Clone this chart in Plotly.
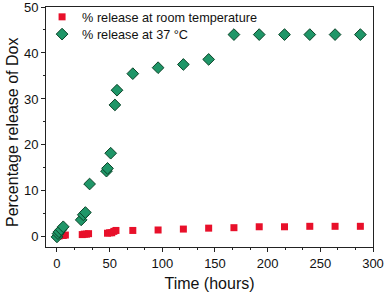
import plotly.graph_objects as go

# Room temperature release (red squares)
rt_time = [0, 2, 4, 6, 8, 24, 26, 28, 30, 48, 50, 52, 54, 56, 72, 96, 120, 144, 168, 192, 216, 240, 264, 288]
rt_release = [0.2, 0.2, 0.3, 0.3, 0.4, 0.5, 0.6, 0.6, 0.7, 0.8, 0.9, 0.9, 1.2, 1.4, 1.4, 1.5, 1.7, 1.9, 2.0, 2.2, 2.2, 2.3, 2.3, 2.3]

# 37 °C release (green diamonds)
t37_time = [0, 1, 2, 4, 6, 23, 25, 27, 31, 47, 48, 51, 55, 57, 72, 96, 120, 144, 168, 192, 216, 240, 264, 288]
t37_release = [0.0, 0.7, 1.1, 1.6, 2.2, 3.7, 4.8, 5.3, 11.5, 14.3, 14.9, 18.2, 28.7, 31.9, 35.5, 36.8, 37.5, 38.6, 44.0, 44.0, 44.0, 44.0, 44.0, 44.0]

x_ticks = [0, 50, 100, 150, 200, 250, 300]
y_ticks = [0, 10, 20, 30, 40, 50]

FONT = "Liberation Sans, Arial, sans-serif"

fig = go.Figure()
fig.add_trace(go.Scatter(
    x=rt_time, y=rt_release, mode="markers",
    name="% release at room temperature", legend="legend", showlegend=True,
    marker=dict(symbol="square", size=7, color="#e8102a", line=dict(width=0)),
))
fig.add_trace(go.Scatter(
    x=t37_time, y=t37_release, mode="markers",
    name="% release at 37 °C", legend="legend2", showlegend=True,
    marker=dict(symbol="diamond", size=9, color="#1f9668", line=dict(width=1, color="#0b4428")),
))

axis_common = dict(
    showline=True, linecolor="#222", linewidth=1, mirror=True,
    ticks="outside", ticklen=4, tickwidth=1, tickcolor="#222",
    showgrid=False, zeroline=False, automargin=False,
    ticklabeloverflow="allow",
    tickfont=dict(family=FONT, size=13, color="#111"),
)

fig.update_xaxes(
    range=[-10.4, 300], tickvals=x_ticks,
    title=dict(text="Time (hours)", font=dict(family=FONT, size=16, color="#111"), standoff=8),
    minor=dict(dtick=50/3, tick0=0, ticks="outside", ticklen=2, tickcolor="#222"),
    **axis_common,
)
fig.update_yaxes(
    range=[-2.2, 50], tickvals=y_ticks,
    minor=dict(dtick=5, tick0=0, ticks="outside", ticklen=2, tickcolor="#222"),
    **axis_common,
)

leg_common = dict(
    x=-0.012, xanchor="left", yanchor="middle",
    bgcolor="rgba(0,0,0,0)", borderwidth=0,
    font=dict(family=FONT, size=12.7, color="#111"),
    itemsizing="trace", visible=True,
)

fig.update_layout(
    width=386, height=295,
    showlegend=True,
    margin=dict(l=46, r=13, t=7, b=48, autoexpand=False),
    paper_bgcolor="white", plot_bgcolor="white",
    legend=dict(y=0.958, **leg_common),
    legend2=dict(y=0.886, **leg_common),
    font=dict(family=FONT),
    annotations=[dict(
        text="Percentage release of Dox", textangle=-90,
        xref="paper", yref="paper", x=-0.104, y=0.479,
        xanchor="center", yanchor="middle", showarrow=False,
        font=dict(family=FONT, size=16, color="#111"),
    )],
)

fig.write_html(
    "out.html",
    config={"displayModeBar": False},
    post_script="document.body.style.margin='0';document.body.style.overflow='hidden';",
)
